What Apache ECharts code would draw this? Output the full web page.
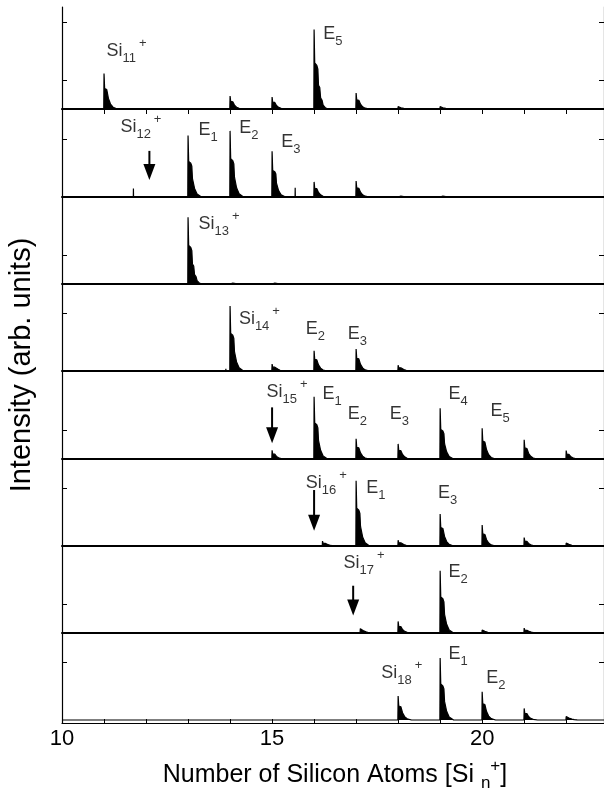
<!DOCTYPE html>
<html>
<head>
<meta charset="utf-8">
<script src="https://cdn.jsdelivr.net/npm/echarts@6/dist/echarts.min.js"></script>
<style>
    html, body { margin: 0; padding: 0; background: #fff; }
    #chart { width: 604px; height: 800px; }
</style>
</head>
<body>
<div id="chart"></div>
<script>
// x axis (cluster size)
var xMin = 10, xMax = 22.9;
var xTickValues = [10, 11, 12, 13, 14, 15, 16, 17, 18, 19, 20, 21, 22];
var xLabelValues = [10, 15, 20];

// peaks per panel: [cluster size, height in arb. units]
var peaksSi11 = [[11, 1.22], [14, 0.45], [15, 0.41], [16, 2.74], [17, 0.55], [18, 0.08], [19, 0.08], [22, 0.03]];
var peaksSi12 = [[13, 2.12], [14, 2.28], [15, 1.58], [16, 0.52], [17, 0.55], [18, 0.05], [19, 0.05]];
var peaksSi13 = [[13, 2.3], [14, 0.06], [15, 0.06]];
var peaksSi14 = [[14, 2.24], [15, 0.24], [16, 0.7], [17, 0.76], [18, 0.2]];
var peaksSi15 = [[15, 0.3], [16, 2.15], [17, 0.7], [18, 0.52], [19, 1.75], [20, 1.06], [21, 0.66], [22, 0.29]];
var peaksSi16 = [[16.2, 0.17], [17, 2.25], [18, 0.2], [19, 1.1], [20, 0.72], [21, 0.29], [22, 0.1]];
var peaksSi17 = [[17.1, 0.15], [18, 0.4], [19, 2.15], [20, 0.1], [21, 0.17]];
var peaksSi18 = [[18, 0.83], [19, 2.14], [20, 0.97], [21, 0.4], [22, 0.12]];

// single narrow spikes
var spikesSi12 = [[11.7, 0.29], [15.55, 0.32]];
var spikesSi14 = [[13.9, 0.08]];

// isotope pattern of one peak (offset from n, fraction of peak height)
var peakOffsets = [-0.006, 0, 0.015, 0.035, 0.065, 0.09, 0.105, 0.135, 0.155, 0.19, 0.215, 0.26, 0.32];
var peakShape   = [0, 1, 0.58, 0.6, 0.55, 0.5, 0.3, 0.27, 0.14, 0.11, 0.05, 0.02, 0];

var panelPeaks = [peaksSi11, peaksSi12, peaksSi13, peaksSi14, peaksSi15, peaksSi16, peaksSi17, peaksSi18];
var panelSpikes = [[], spikesSi12, [], spikesSi14, [], [], [], []];

// labels: [main, subscript, superscript, x, y]
var panelLabels = [
    [['Si', '11', '+', 11.06, 2.0], ['E', '5', '', 16.22, 2.58]],
    [['Si', '12', '+', 11.39, 2.42], ['E', '1', '', 13.25, 2.31], ['E', '2', '', 14.22, 2.37], ['E', '3', '', 15.22, 1.91]],
    [['Si', '13', '+', 13.25, 2.07]],
    [['Si', '14', '+', 14.21, 1.79], ['E', '2', '', 15.8, 1.45], ['E', '3', '', 16.8, 1.28]],
    [['Si', '15', '+', 14.87, 2.3], ['E', '1', '', 16.2, 2.25], ['E', '2', '', 16.8, 1.55], ['E', '3', '', 17.8, 1.55], ['E', '4', '', 19.2, 2.25], ['E', '5', '', 20.2, 1.67]],
    [['Si', '16', '+', 15.8, 2.16], ['E', '1', '', 17.24, 2.0], ['E', '3', '', 18.95, 1.83]],
    [['Si', '17', '+', 16.7, 2.4], ['E', '2', '', 19.2, 2.1]],
    [['Si', '18', '+', 17.6, 1.62], ['E', '1', '', 19.2, 2.28], ['E', '2', '', 20.1, 1.45]]
];

// arrows: [panel, x, top, tip]
var arrows = [[1, 12.08, 1.59, 0.59], [4, 15.0, 1.78, 0.54], [5, 16.0, 1.93, 0.53], [6, 16.93, 1.63, 0.6]];

// y ticks shown on each panel
var panelYTicks = [[1, 3], [2], [1], [2], [1], [2], [1], [2]];

// layout
var panelTops = [7, 109, 197, 284, 371, 459, 546, 633];
var panelBottoms = [109, 197, 284, 371, 459, 546, 633, 723];
var pxPerUnit = 29;
var font = '"Liberation Sans", Arial, sans-serif';

function buildSpectrum(peaks, spikes) {
    var pts = [];
    peaks.forEach(function (p) {
        for (var k = 0; k < peakOffsets.length; k++) {
            pts.push([p[0] + peakOffsets[k], p[1] * peakShape[k]]);
        }
    });
    spikes.forEach(function (s) {
        pts.push([s[0] - 0.003, 0], [s[0], s[1]], [s[0] + 0.003, 0]);
    });
    pts.sort(function (a, b) { return a[0] - b[0]; });
    return [[xMin, 0]].concat(pts, [[xMax, 0]]);
}

var richLabel = {
    m: { fontSize: 18, lineHeight: 28, verticalAlign: 'middle', fontFamily: font, color: '#000' },
    sub: { fontSize: 13, lineHeight: 16, verticalAlign: 'bottom', fontFamily: font, color: '#000' },
    sup: { fontSize: 13, lineHeight: 6, verticalAlign: 'top', fontFamily: font, color: '#000', padding: [0, 0, 0, 3] }
};

var n = panelTops.length;
var grids = [], xAxes = [], yAxes = [], series = [];

for (var i = 0; i < n; i++) {
    var last = i === n - 1;
    var yMin = last ? -3 / pxPerUnit : 0;
    grids.push({ left: 62, right: 0, top: panelTops[i], height: panelBottoms[i] - panelTops[i] });
    xAxes.push({
        type: 'value', gridIndex: i, min: xMin, max: xMax,
        axisLine: { show: true, onZero: false, lineStyle: { color: '#000', width: last ? 1.2 : 2 } },
        axisTick: { show: last, inside: true, length: 4, customValues: xTickValues, lineStyle: { color: '#000' } },
        axisLabel: { show: last, customValues: xLabelValues, margin: 5, fontSize: 22, color: '#000', fontFamily: font },
        splitLine: { show: false }
    });
    yAxes.push({
        type: 'value', gridIndex: i, min: yMin,
        max: yMin + (panelBottoms[i] - panelTops[i]) / pxPerUnit,
        axisLine: { show: true, lineStyle: { color: '#000', width: 1.2 } },
        axisTick: { show: true, inside: true, length: 5, customValues: panelYTicks[i], lineStyle: { color: '#000' } },
        axisLabel: { show: false },
        splitLine: { show: false }
    });
    series.push({
        type: 'line', xAxisIndex: i, yAxisIndex: i,
        data: buildSpectrum(panelPeaks[i], panelSpikes[i]),
        showSymbol: false, silent: true,
        lineStyle: { color: '#000', width: 1.2 },
        areaStyle: { color: '#000', opacity: 1 }
    });
    series.push({
        type: 'scatter', xAxisIndex: i, yAxisIndex: i, symbolSize: 0, silent: true,
        data: panelLabels[i].map(function (l) { return { value: [l[3], l[4]], lab: l }; }),
        label: {
            show: true, position: 'right', distance: 0,
            formatter: function (p) {
                var l = p.data.lab;
                return '{m|' + l[0] + '}{sub|' + l[1] + '}' + (l[2] ? '{sup|' + l[2] + '}' : '');
            },
            rich: richLabel
        }
    });
}
// right-hand ticks
for (var j = 0; j < n; j++) {
    yAxes.push({
        type: 'value', gridIndex: j, position: 'right',
        min: yAxes[j].min, max: yAxes[j].max,
        axisLine: { show: true, lineStyle: { color: '#000', width: 1.2 } },
        axisTick: { show: true, inside: true, length: 5, customValues: panelYTicks[j], lineStyle: { color: '#000' } },
        axisLabel: { show: false },
        splitLine: { show: false }
    });
}
// top frame with ticks
xAxes.push({
    type: 'value', gridIndex: 0, position: 'top', min: xMin, max: xMax,
    axisLine: { show: true, lineStyle: { color: '#000', width: 1.2 } },
    axisTick: { show: true, inside: true, length: 5, customValues: xTickValues, lineStyle: { color: '#000' } },
    axisLabel: { show: false },
    splitLine: { show: false }
});

var chart = echarts.init(document.getElementById('chart'));
chart.setOption({
    animation: false,
    backgroundColor: '#fff',
    grid: grids,
    xAxis: xAxes,
    yAxis: yAxes,
    series: series
});

// arrows and axis titles
var elements = [];
arrows.forEach(function (a) {
    var top = chart.convertToPixel({ gridIndex: a[0] }, [a[1], a[2]]);
    var tip = chart.convertToPixel({ gridIndex: a[0] }, [a[1], a[3]]);
    var headLen = 16, headW = 6;
    elements.push({
        type: 'line', silent: true,
        shape: { x1: top[0], y1: top[1], x2: tip[0], y2: tip[1] - headLen + 1 },
        style: { stroke: '#000', lineWidth: 2 }
    });
    elements.push({
        type: 'polygon', silent: true,
        shape: { points: [[tip[0] - headW, tip[1] - headLen], [tip[0] + headW, tip[1] - headLen], [tip[0], tip[1]]] },
        style: { fill: '#000' }
    });
});
elements.push({
    type: 'text', x: 22, y: 365, rotation: Math.PI / 2, silent: true,
    style: { text: 'Intensity (arb. units)', fontSize: 29, fontFamily: font, fill: '#000', align: 'center', verticalAlign: 'middle' }
});
elements.push({
    type: 'text', x: 335, y: 775, silent: true,
    style: {
        text: '{t|Number of Silicon Atoms [Si }{s|n}{p|+}{t|]}',
        align: 'center', verticalAlign: 'middle',
        rich: {
            t: { fontSize: 25, lineHeight: 34, verticalAlign: 'middle', fontFamily: font, fill: '#000' },
            s: { fontSize: 17, lineHeight: 18, verticalAlign: 'bottom', fontFamily: font, fill: '#000' },
            p: { fontSize: 17, lineHeight: 6, verticalAlign: 'top', fontFamily: font, fill: '#000' }
        }
    }
});
chart.setOption({ graphic: elements });
</script>
</body>
</html>
